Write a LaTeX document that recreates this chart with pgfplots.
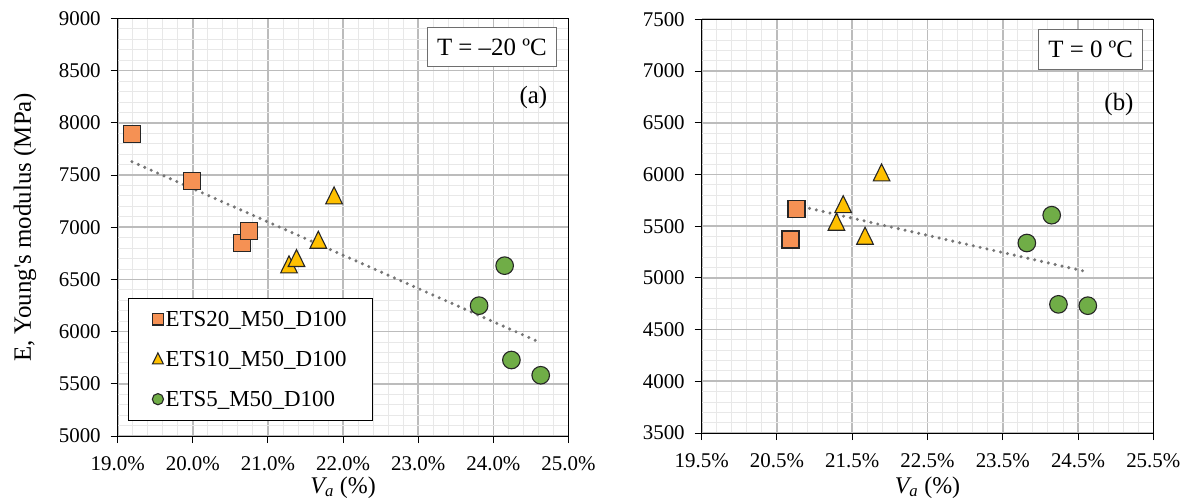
\documentclass[border=0pt]{standalone}
\usepackage{fontspec}
\setmainfont{Liberation Serif}
\usepackage{pgfplots}
\pgfplotsset{compat=1.18}
\definecolor{sqfill}{RGB}{245,145,84}
\definecolor{trifill}{RGB}{255,192,0}
\definecolor{cirfill}{RGB}{112,173,71}
\definecolor{edge}{RGB}{38,38,38}
\definecolor{majgrid}{RGB}{188,188,188}
\definecolor{mingrid}{RGB}{232,232,232}
\definecolor{trend}{RGB}{118,118,118}
\definecolor{boxedge}{RGB}{110,110,110}

\pgfplotsset{
  panel/.style={
    scale only axis,
    axis line style={black,line width=1bp},
    tick align=outside, tick pos=left, major tick length=7bp,
    major tick style={black,line width=1bp},
    minor tick num=4, minor tick length=0pt,
    grid=both,
    major grid style={majgrid,line width=1.6bp},
    minor grid style={mingrid,line width=0.9bp},
    scaled ticks=false,
    /pgf/number format/assume math mode=true,
    /pgf/number format/1000 sep={},
    tick label style={font=\fontsize{21}{25}\selectfont},
    xticklabel={\pgfmathprintnumber[fixed,fixed zerofill,precision=1]{\tick}\%},
    xticklabel style={anchor=base,yshift=-27bp},
    yticklabel style={anchor=east,xshift=-6.5bp},
    every axis x label/.style={at={(axis description cs:0.5,0)},anchor=base,font=\fontsize{24}{28}\selectfont},
    xlabel={{\itshape V}\textsubscript{\itshape a} (\%)},
    clip=false,
  },
  sq/.style={only marks, mark=square*, mark size=8.5bp,
    mark options={fill=sqfill,draw=edge,line width=1.1bp},
    legend image code/.code={\draw[##1,mark size=5.8bp] plot coordinates {(0bp,0bp)};}},
  tri/.style={only marks, mark=triangle*, mark size=9.6bp,
    mark options={fill=trifill,draw=edge,line width=1.1bp,yscale=1.18},
    legend image code/.code={\draw[##1,mark size=6.2bp] plot coordinates {(0bp,-1bp)};}},
  cir/.style={only marks, mark=*, mark size=8.8bp,
    mark options={fill=cirfill,draw=edge,line width=1.1bp},
    legend image code/.code={\draw[##1,mark size=5.6bp] plot coordinates {(0bp,0bp)};}},
  trendl/.style={trend, line width=3.4bp, line cap=round, dash pattern=on 0bp off 7bp, forget plot},
}

\begin{document}
\begin{tikzpicture}
\useasboundingbox (0bp,0bp) rectangle (1192bp,503bp);

% ---------------- (a) T = -20 C ----------------
\begin{axis}[panel,
  at={(117.7bp,67bp)}, anchor=south west,
  width=450.8bp, height=417.5bp,
  xmin=19, xmax=25, ymin=5000, ymax=9000,
  xtick={19,20,21,22,23,24,25},
  ytick={5000,5500,6000,6500,7000,7500,8000,8500,9000},
  ylabel={E, Young\textquotesingle s modulus (MPa)},
  every axis y label/.style={at={(axis description cs:-0.2056,0.5)},rotate=90,anchor=center,font=\fontsize{25}{30}\selectfont},
  every axis x label/.append style={yshift=-57bp},
  legend cell align=left,
  legend style={at={(0.022,0.0367)}, anchor=south west, draw=black, line width=1bp, fill=white,
    inner xsep=24bp, inner ysep=1bp, row sep=0bp,
    font=\fontsize{23}{27}\selectfont,
    nodes={inner sep=2bp, text height=25.5bp, text depth=10.5bp}},
]
\addplot[sq] coordinates {(19.19,7891) (19.99,7443) (20.66,6850) (20.75,6964)};
\addlegendentry{ETS20\_M50\_D100}
\addplot[tri] coordinates {(21.88,7278) (21.28,6617) (21.38,6678) (21.67,6853)};
\addlegendentry{ETS10\_M50\_D100}
\addplot[cir] coordinates {(23.81,6249) (24.15,6632) (24.24,5728) (24.63,5582)};
\addlegendentry{ETS5\_M50\_D100}
\addplot[trendl] coordinates {(19.19,7628) (24.61,5900)};
\node[draw=boxedge, line width=1.2bp, fill=white, anchor=north east,
  font=\fontsize{25}{30}\selectfont, inner xsep=9.5bp, minimum height=38.7bp]
  at (rel axis cs:0.974,0.979) {T = –20 ºC};
\node[font=\fontsize{25}{30}\selectfont, anchor=center] at (rel axis cs:0.922,0.810) {(a)};
\end{axis}

% ---------------- (b) T = 0 C ----------------
\begin{axis}[panel,
  at={(701.7bp,70bp)}, anchor=south west,
  width=451.6bp, height=413.7bp,
  xmin=19.5, xmax=25.5, ymin=3500, ymax=7500,
  xtick={19.5,20.5,21.5,22.5,23.5,24.5,25.5},
  ytick={3500,4000,4500,5000,5500,6000,6500,7000,7500},
  every axis x label/.append style={yshift=-60bp},
]
\addplot[sq] coordinates {(20.76,5664) (20.68,5371)};
\addplot[tri] coordinates {(21.38,5685) (21.29,5515) (21.67,5380) (21.89,5992)};
\addplot[cir] coordinates {(23.82,5337) (24.15,5606) (24.24,4744) (24.63,4731)};
\addplot[trendl] coordinates {(20.66,5717) (24.60,5062)};
\node[draw=boxedge, line width=1.2bp, fill=white, anchor=north east,
  font=\fontsize{25}{30}\selectfont, inner xsep=9.7bp, minimum height=39.5bp]
  at (rel axis cs:0.978,0.976) {T = 0 ºC};
\node[font=\fontsize{25}{30}\selectfont, anchor=center] at (rel axis cs:0.924,0.794) {(b)};
\end{axis}
\end{tikzpicture}
\end{document}
